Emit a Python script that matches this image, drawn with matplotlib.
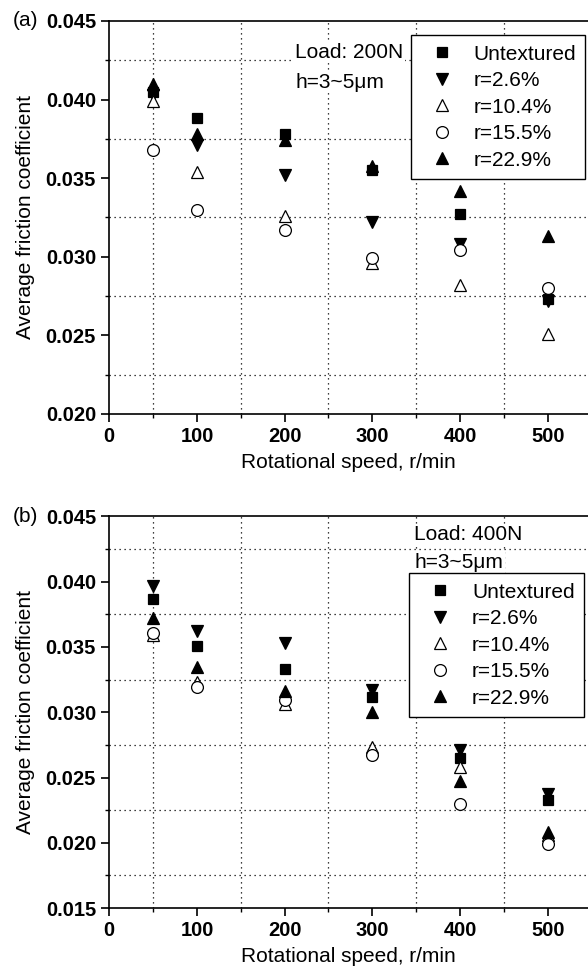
import matplotlib

matplotlib.use("Agg")

import matplotlib.pyplot as plt
from matplotlib.ticker import FormatStrFormatter, MultipleLocator

plt.rcParams["font.family"] = ["Liberation Sans", "DejaVu Sans"]

speeds = [50, 100, 200, 300, 400, 500]
labels = ["Untextured", "r=2.6%", "r=10.4%", "r=15.5%", "r=22.9%"]

# (a) Load 200N
untextured_a = [0.0405, 0.0388, 0.0378, 0.0355, 0.0327, 0.0273]
r26_a = [0.0403, 0.0371, 0.0352, 0.0322, 0.0308, 0.0272]
r104_a = [0.0399, 0.0354, 0.0326, 0.0296, 0.0282, 0.0251]
r155_a = [0.0368, 0.0330, 0.0317, 0.0299, 0.0304, 0.0280]
r229_a = [0.0410, 0.0378, 0.0374, 0.0358, 0.0342, 0.0313]

# (b) Load 400N
untextured_b = [0.0387, 0.0351, 0.0333, 0.0312, 0.0265, 0.0233]
r26_b = [0.0397, 0.0362, 0.0353, 0.0317, 0.0271, 0.0237]
r104_b = [0.0359, 0.0323, 0.0306, 0.0273, 0.0258, 0.0206]
r155_b = [0.0361, 0.0319, 0.0309, 0.0267, 0.0230, 0.0199]
r229_b = [0.0372, 0.0335, 0.0316, 0.0300, 0.0247, 0.0208]

styles = [
    dict(marker="s", mfc="black", ms=7.5),
    dict(marker="v", mfc="black", ms=8.5),
    dict(marker="^", mfc="white", ms=8.5),
    dict(marker="o", mfc="white", ms=8.5),
    dict(marker="^", mfc="black", ms=8.5),
]

fig = plt.figure(figsize=(5.88, 9.67), dpi=100)
ax_a = fig.add_axes([0.1859, 0.5719, 0.8141, 0.4064])
ax_b = fig.add_axes([0.1859, 0.0610, 0.8141, 0.4049])


def draw_panel(ax, series, ylim, load_text, text_xy, legend_xy, tag, tag_y):
    for vals, lab, st in zip(series, labels, styles):
        ax.plot(speeds, vals, linestyle="none", mec="black", mew=0.9,
                label=lab, **st)
    ax.set_xlim(0, 546)
    ax.set_ylim(*ylim)
    ax.xaxis.set_major_locator(MultipleLocator(100))
    ax.xaxis.set_minor_locator(MultipleLocator(50))
    ax.yaxis.set_major_locator(MultipleLocator(0.005))
    ax.yaxis.set_minor_locator(MultipleLocator(0.0025))
    ax.yaxis.set_major_formatter(FormatStrFormatter("%.3f"))
    ax.grid(False, which="major")
    ax.grid(True, which="minor", color="black", linestyle=(0, (1, 3)),
            linewidth=0.9)
    ax.tick_params(which="major", direction="out", length=6, width=1.2,
                   labelsize=14.5)
    ax.tick_params(which="minor", direction="out", length=3, width=1.0)
    for lab in ax.get_xticklabels() + ax.get_yticklabels():
        lab.set_fontweight("bold")
    ax.spines["right"].set_visible(False)
    for side in ("left", "bottom", "top"):
        ax.spines[side].set_linewidth(1.2)
    ax.set_xlabel("Rotational speed, r/min", fontsize=15, labelpad=5)
    ax.set_ylabel("Average friction coefficient", fontsize=15, labelpad=8)

    tx, ty1, ty2 = text_xy
    box = dict(facecolor="white", edgecolor="none", pad=1)
    ax.text(tx, ty1, load_text, transform=ax.transAxes, fontsize=15,
            va="top", ha="left", bbox=box, zorder=4)
    ax.text(tx, ty2, "h=3~5\u03bcm", transform=ax.transAxes, fontsize=15,
            va="top", ha="left", bbox=box, zorder=4)

    leg = ax.legend(loc="upper left", bbox_to_anchor=legend_xy,
                    borderaxespad=0, fontsize=15, numpoints=1,
                    handlelength=2.05, handletextpad=0.5, labelspacing=0.36,
                    borderpad=0.45, fancybox=False, framealpha=1)
    leg.get_frame().set_edgecolor("black")
    leg.get_frame().set_linewidth(1.0)
    leg.set_zorder(5)

    fig.text(0.022, tag_y, tag, fontsize=15, va="center", ha="left")


draw_panel(ax_a, [untextured_a, r26_a, r104_a, r155_a, r229_a],
           (0.020, 0.045), "Load: 200N", (0.388, 0.944, 0.868),
           (0.630, 0.964), "(a)", 1 - 21 / 967)
draw_panel(ax_b, [untextured_b, r26_b, r104_b, r155_b, r229_b],
           (0.015, 0.045), "Load: 400N", (0.637, 0.978, 0.907),
           (0.627, 0.855), "(b)", 1 - 516 / 967)

fig.savefig("out.png", dpi=100)
